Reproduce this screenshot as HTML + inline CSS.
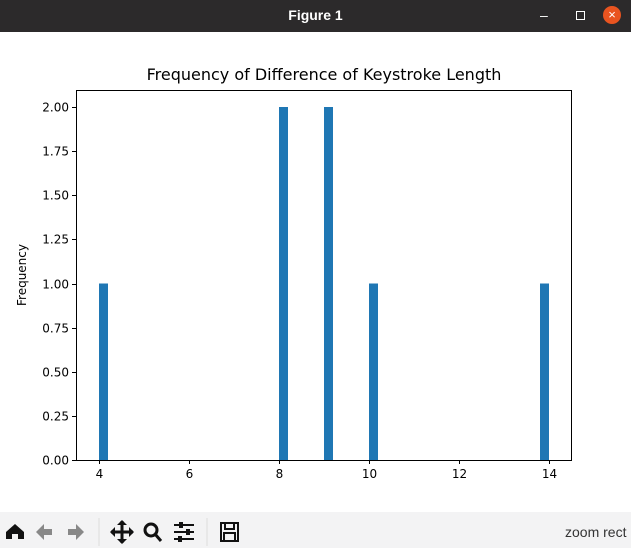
<!DOCTYPE html>
<html><head><meta charset="utf-8"><style>
body{margin:0;width:631px;height:548px;overflow:hidden;background:#fff;font-family:"Liberation Sans","DejaVu Sans",sans-serif;position:relative}
#titlebar{position:absolute;left:0;top:0;width:631px;height:32px;background:#2c2a2b;color:#fff;font-weight:bold;font-size:14px;text-align:center;line-height:30px}
#toolbar{position:absolute;left:0;top:512px;width:631px;height:36px;background:#f3f3f4}
#chart text{font-family:"DejaVu Sans",sans-serif}
</style></head><body>
<div id="titlebar">Figure 1
<span style="position:absolute;left:540px;top:0;font-weight:normal">–</span>
<span style="position:absolute;left:576px;top:11px;width:7px;height:7px;border:1px solid #fff"></span>
<span style="position:absolute;left:603px;top:6px;width:18px;height:18px;border-radius:50%;background:#e95420;line-height:18px;font-size:13px;font-weight:normal">×</span>
</div>
<div id="toolbar">
<svg width="631" height="36">
<g><path d="M6 27 L6 20 L15 12 L24 20 L24 27 L18 27 L18 22 L12 22 L12 27Z" fill="#111"/></g>
<g><path d="M36 20 L44 12 L44 17 L52 17 L52 23 L44 23 L44 28Z" fill="#888"/></g>
<g><path d="M84 20 L76 12 L76 17 L68 17 L68 23 L76 23 L76 28Z" fill="#888"/></g>
<line x1="99" y1="6" x2="99" y2="34" stroke="#ddd"/>
<g><path d="M122 9 L122 31 M111 20 L133 20" stroke="#111" stroke-width="3"/><path d="M117 13 L122 8 L127 13Z M117 27 L122 32 L127 27Z M115 15 L110 20 L115 25Z M129 15 L134 20 L129 25Z" fill="#111"/></g>
<g><circle cx="151" cy="18" r="6" fill="none" stroke="#111" stroke-width="3"/><path d="M155 22 L161 29" stroke="#111" stroke-width="3"/></g>
<g stroke="#111" stroke-width="2"><path d="M174 13 H194 M174 20 H194 M174 27 H194"/><path d="M181 10 v6 M188 17 v6 M180 24 v6" stroke-width="4"/></g>
<line x1="207" y1="6" x2="207" y2="34" stroke="#ddd"/>
<g><rect x="221" y="11" width="17" height="18" fill="none" stroke="#111" stroke-width="2"/><rect x="225" y="11" width="9" height="6" fill="none" stroke="#111" stroke-width="2"/><rect x="224" y="21" width="11" height="8" fill="none" stroke="#111" stroke-width="2"/></g>
<text x="565" y="25" font-size="14" fill="#333">zoom rect</text>
</svg></div>
<svg id="chart" width="631" height="480" style="position:absolute;left:0;top:32px"></svg>
<script>
const xTicks=[4,6,8,10,12,14];
const yTicks=[0,0.25,0.5,0.75,1.0,1.25,1.5,1.75,2.0];
const binStarts=[4,8,9,10,13.8];
const counts=[1,2,2,1,1];
const binWidth=0.2;
const NS="http://www.w3.org/2000/svg";
const svg=document.getElementById('chart');
const L=76,R=572,T=58,B=428;
const xs=v=>99+(v-4)*45;
const ys=v=>B-v*176.5;
function mk(t,a,p){const e=document.createElementNS(NS,t);for(const k in a)e.setAttribute(k,a[k]);(p||svg).appendChild(e);return e;}
binStarts.forEach((s,i)=>{
 const r=mk('rect',{x:xs(s),y:ys(counts[i]),width:xs(s+binWidth)-xs(s),height:B-ys(counts[i]),fill:'#1f77b4'});
 
 
});
const frame=mk('rect',{x:L+0.5,y:T+0.5,width:R-L-1,height:B-T,fill:'none',stroke:'#000','stroke-width':1});


xTicks.forEach(v=>{
 const x=Math.round(xs(v))+0.5;
 mk('line',{x1:x,y1:B,x2:x,y2:B+4,stroke:'#000'});
 const t=mk('text',{x:x,y:B+18,'font-size':12,'text-anchor':'middle'});t.textContent=v;
 
 
});
yTicks.forEach(v=>{
 const y=Math.round(ys(v))+0.5;
 mk('line',{x1:L-4,y1:y,x2:L,y2:y,stroke:'#000'});
 const t=mk('text',{x:L-7,y:y+4,'font-size':12,'text-anchor':'end'});t.textContent=v.toFixed(2);
 
 
});
const yl=mk('text',{x:0,y:0,'font-size':12,'text-anchor':'middle',transform:`translate(26,${(T+B)/2}) rotate(-90)`});yl.textContent='Frequency';


const ti=mk('text',{x:(L+R)/2,y:T-10,'font-size':16,'text-anchor':'middle'});ti.textContent='Frequency of Difference of Keystroke Length';


</script>
</body></html>
